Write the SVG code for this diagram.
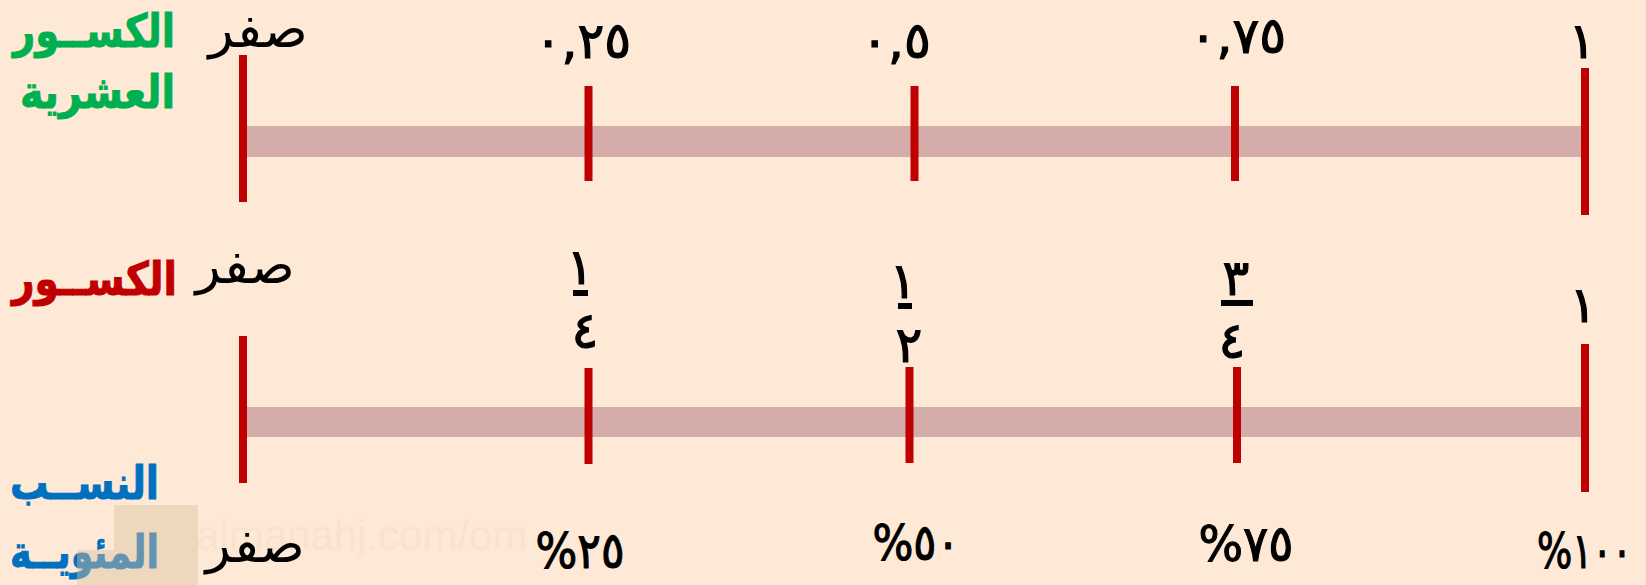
<svg xmlns="http://www.w3.org/2000/svg" width="1646" height="585" viewBox="0 0 1646 585">
<style>
.bg{fill:#FEE9D6}
.bar{fill:#D4ACAA}
.tick{fill:#C00000}
.num{font-family:"DejaVu Sans",sans-serif;font-size:50px;fill:#000;stroke:#000;stroke-width:1.2px;text-anchor:middle}
.zero{font-family:"DejaVu Sans",sans-serif;font-size:52px;fill:#000;text-anchor:middle}
.lbl{font-family:"DejaVu Sans",sans-serif;font-weight:bold;font-size:46px;text-anchor:end;stroke-width:1px}
.fr{fill:#000}
.wm{font-family:"Liberation Sans",sans-serif;font-size:42px;fill:#F8E3D0}
</style>
<rect class="bg" x="0" y="0" width="1646" height="585"/>
<g id="watermark">
<text class="wm" x="196" y="550">almanahj.com/om</text>
</g>
<g id="labels">
<g id="label-decimals" fill="#00B050" stroke="#00B050">
<text class="lbl" x="175" y="47" textLength="162" lengthAdjust="spacingAndGlyphs">الكســور</text>
<text class="lbl" x="175" y="108" textLength="155" lengthAdjust="spacingAndGlyphs">العشرية</text>
</g>
<g id="label-fractions" fill="#C00000" stroke="#C00000">
<text class="lbl" x="177" y="295" textLength="165" lengthAdjust="spacingAndGlyphs">الكســور</text>
</g>
<g id="label-percent" fill="#0070C0" stroke="#0070C0">
<text class="lbl" x="159" y="499" textLength="149" lengthAdjust="spacingAndGlyphs">النســب</text>
<text class="lbl" x="159" y="568" textLength="149" lengthAdjust="spacingAndGlyphs">المئويــة</text>
</g>
</g>
<g id="connectors">
<rect class="bar" x="243" y="126" width="1342" height="31"/>
<rect class="bar" x="243" y="407" width="1342" height="30"/>
</g>
<g id="line-decimals">
<rect class="tick" x="239" y="55" width="8" height="147"/>
<rect class="tick" x="584.5" y="86" width="8" height="95"/>
<rect class="tick" x="910.5" y="86" width="8" height="95"/>
<rect class="tick" x="1231" y="86" width="8" height="95"/>
<rect class="tick" x="1581" y="68" width="8" height="147"/>
<text class="zero" x="258" y="47">صفر</text>
<text class="num" x="583" y="58">٠,٢٥</text>
<text class="num" x="896" y="58">٠,٥</text>
<text class="num" x="1238" y="53">٠,٧٥</text>
<text class="num" x="1582" y="58">١</text>
</g>
<g id="line-fractions">
<rect class="tick" x="239" y="336" width="8" height="147"/>
<rect class="tick" x="584.5" y="368" width="8" height="96"/>
<rect class="tick" x="905.5" y="367" width="8" height="96"/>
<rect class="tick" x="1233" y="367" width="8" height="96"/>
<rect class="tick" x="1581" y="344" width="8" height="148"/>
<text class="zero" x="245" y="283">صفر</text>
<g id="frac-1-4">
<text class="num" x="580" y="284">١</text>
<rect class="fr" x="573" y="290" width="15" height="6"/>
<text class="num" x="585" y="348">٤</text>
</g>
<g id="frac-1-2">
<text class="num" x="903" y="298">١</text>
<rect class="fr" x="898" y="303" width="14" height="6"/>
<text class="num" x="909" y="362">٢</text>
</g>
<g id="frac-3-4">
<text class="num" x="1236" y="295">٣</text>
<rect class="fr" x="1221" y="300" width="32" height="6"/>
<text class="num" x="1232" y="358">٤</text>
</g>
<text class="num" x="1583" y="322">١</text>
</g>
<g id="line-percent">
<text class="zero" x="255" y="562">صفر</text>
<text class="num" x="580" y="568" textLength="89" lengthAdjust="spacingAndGlyphs">%٢٥</text>
<text class="num" x="916" y="560" textLength="87" lengthAdjust="spacingAndGlyphs">%٥٠</text>
<text class="num" x="1246" y="561" textLength="95" lengthAdjust="spacingAndGlyphs">%٧٥</text>
<text class="num" x="1632" y="568" style="text-anchor:end" textLength="95" lengthAdjust="spacingAndGlyphs">%١٠٠</text>
</g>
<g id="watermark-box">
<rect x="114" y="505" width="84" height="80" fill="#D9C2A0" fill-opacity="0.45"/>
<rect x="77" y="550" width="37" height="35" fill="#D9C2A0" fill-opacity="0.45"/>
</g>
</svg>
